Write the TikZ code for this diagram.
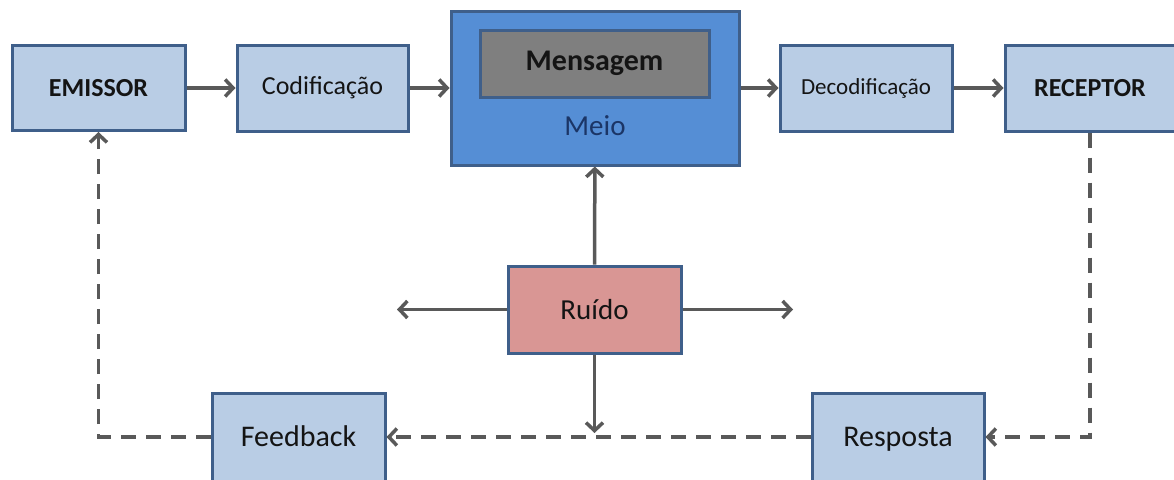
\documentclass[tikz,border=0pt]{standalone}
\usepackage{fontspec}
\setmainfont{Carlito}
\usetikzlibrary{arrows.meta}
\definecolor{boxfill}{HTML}{B9CDE5}
\definecolor{boxedge}{HTML}{3F5F8A}
\definecolor{meiofill}{HTML}{558ED5}
\definecolor{msgfill}{HTML}{7F7F7F}
\definecolor{ruifill}{HTML}{D99694}
\definecolor{lineg}{HTML}{595959}
\definecolor{meiotext}{HTML}{1B3566}
\definecolor{txt}{HTML}{141414}
\tikzset{
  blk/.style={draw=boxedge, line width=3pt, fill=boxfill, inner sep=0pt,
    text=txt, align=center},
  arr/.style={-{Straight Barb[length=8pt,width=17pt]}, line width=3.5pt, draw=lineg},
  darr/.style={arr, dash pattern=on 15pt off 10pt},
  fa/.style={font=\fontsize{26}{30}\selectfont},
  fb/.style={font=\fontsize{26}{30}\selectfont\bfseries},
  fc/.style={font=\fontsize{23}{27}\selectfont},
  fd/.style={font=\fontsize{29}{33}\selectfont},
  ff/.style={font=\fontsize{30}{34}\selectfont, text height=19pt, text depth=0pt},
  fe/.style={font=\fontsize{30}{34}\selectfont\bfseries},
}
\begin{document}
\begin{tikzpicture}[x=1pt, y=-1pt]
\fill[white] (0,0) rectangle (1174,479);
\useasboundingbox (0,0) rectangle (1174,479);
\clip (0,0) rectangle (1174,479);

% top row
\node[blk, fb, minimum width=173pt, minimum height=85pt] (emi) at (98.5,88) {EMISSOR};
\node[blk, fa, minimum width=171pt, minimum height=86pt] (cod) at (322.5,88) {Codificação};
\node[blk, fill=meiofill, minimum width=288pt, minimum height=154pt] (meio) at (595,88) {};
\node[draw=boxedge, line width=3pt, fill=msgfill, fe, text=txt, inner sep=0pt,
  minimum width=229pt, minimum height=67pt] (msg) at (594.5,63.5) {Mensagem};
\node[fd, text=meiotext, inner sep=0pt] (meiolbl) at (595,126) {Meio};
\node[blk, fc, minimum width=172pt, minimum height=86pt] (dec) at (866,88) {Decodificação};
\node[blk, fb, minimum width=170pt, minimum height=86pt] (rec) at (1090,88) {RECEPTOR};

% noise
\node[blk, fill=ruifill, fd, minimum width=173pt, minimum height=87pt] (rui) at (594.5,309.5) {Ruído};

% bottom row
\node[blk, ff, minimum width=173pt, minimum height=88pt] (fbk) at (298.5,437) {Feedback};
\node[blk, ff, minimum width=172pt, minimum height=88pt] (resp) at (898,437) {Resposta};

% free ends of the noise arrows
\coordinate (nl) at (397,309.5);
\coordinate (nr) at (793,309.5);
\coordinate (nd) at (594.5,433);

% main flow
\draw[arr] (emi) -- (cod);
\draw[arr] (cod) -- (meio);
\draw[arr] (meio) -- (dec);
\draw[arr] (dec) -- (rec);

% noise
\draw[arr] (rui) -- (meio);
\draw[arr] (rui) -- (nl);
\draw[arr] (rui) -- (nr);
\draw[arr] (rui) -- (nd);

% return path
\draw[darr] (rec.south) |- (resp.east);
\draw[darr] (resp) -- (fbk);
\draw[darr] (fbk.west) -| (emi.south);
\end{tikzpicture}
\end{document}
